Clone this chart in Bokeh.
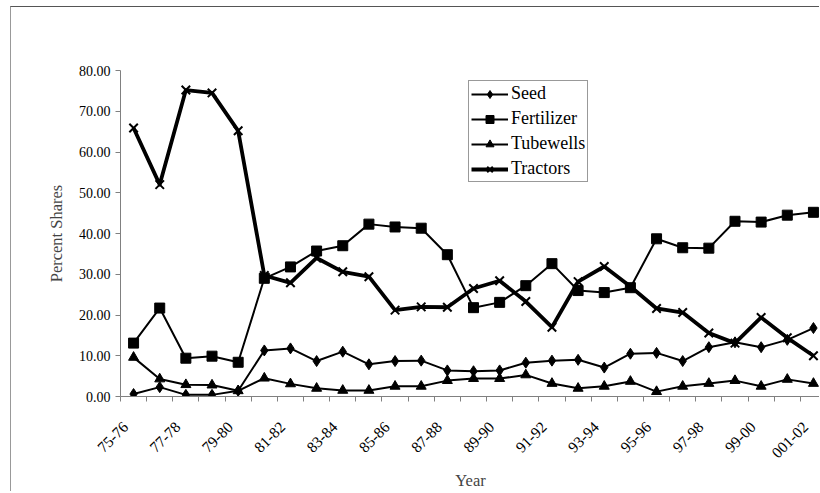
import math
from bokeh.plotting import figure
from bokeh.models import Range1d, FixedTicker, NumeralTickFormatter, Legend, LegendItem
from bokeh.embed import file_html
from bokeh.resources import INLINE

years = ["75-76", "76-77", "77-78", "78-79", "79-80", "80-81", "81-82", "82-83",
         "83-84", "84-85", "85-86", "86-87", "87-88", "88-89", "89-90", "90-91",
         "91-92", "92-93", "93-94", "94-95", "95-96", "96-97", "97-98", "98-99",
         "99-00", "000-01", "001-02"]
seed = [0.6, 2.3, 0.4, 0.4, 1.4, 11.3, 11.8, 8.7, 11.0, 7.9, 8.7, 8.8, 6.4, 6.2,
        6.4, 8.3, 8.8, 9.0, 7.1, 10.5, 10.7, 8.7, 12.1, 13.3, 12.1, 13.9, 16.8]
fertilizer = [13.1, 21.7, 9.4, 9.9, 8.4, 29.0, 31.8, 35.7, 37.0, 42.3, 41.6, 41.3,
              34.8, 21.8, 23.1, 27.2, 32.6, 26.0, 25.5, 26.7, 38.7, 36.5, 36.4,
              43.0, 42.8, 44.5, 45.2]
tubewells = [9.6, 4.3, 2.9, 2.8, 1.4, 4.5, 3.1, 2.0, 1.5, 1.5, 2.5, 2.5, 3.9, 4.4,
             4.4, 5.3, 3.2, 2.0, 2.5, 3.7, 1.2, 2.5, 3.2, 3.9, 2.5, 4.2, 3.2]
tractors = [65.9, 52.0, 75.2, 74.5, 65.2, 29.7, 27.9, 34.0, 30.6, 29.4, 21.2, 22.0,
            21.9, 26.5, 28.4, 23.3, 17.0, 28.2, 31.9, 27.0, 21.6, 20.6, 15.6, 13.1,
            19.4, 14.4, 10.0]
y_ticks = [0, 10, 20, 30, 40, 50, 60, 70, 80]

xs = list(range(len(years)))
FONT = "Liberation Serif"
LABEL_SHIFT = 0.3  # rotated labels sit slightly left of category centre

p = figure(width=809, height=485, output_backend="svg", toolbar_location=None,
           x_range=Range1d(-0.5, 26.27), y_range=Range1d(0, 80),
           min_border_left=109, min_border_right=0, min_border_top=63,
           min_border_bottom=93)
p.outline_line_color = None
p.xgrid.visible = False
p.ygrid.visible = False
p.styles = {"margin-left": "10px", "margin-top": "6px",
            "border-top": "1px solid #555555", "border-left": "1px solid #999999"}

# x axis
label_pos = [i - LABEL_SHIFT for i in xs[::2]]
xa = p.xaxis[0]
xa.ticker = FixedTicker(ticks=label_pos, minor_ticks=[i - 0.5 for i in xs])
xa.major_label_overrides = {pos: years[i] for pos, i in zip(label_pos, xs[::2])}
xa.major_tick_out = 0
xa.major_tick_in = 0
xa.minor_tick_out = 5
xa.minor_tick_in = 0
xa.minor_tick_line_color = "#808080"
xa.axis_line_color = "#808080"
xa.major_label_orientation = math.pi / 4
xa.major_label_standoff = 23
xa.major_label_text_font = FONT
xa.major_label_text_font_size = "15.5px"
xa.major_label_text_color = "black"
xa.axis_label = "Year"
xa.axis_label_text_font = FONT
xa.axis_label_text_font_size = "16.5px"
xa.axis_label_text_font_style = "normal"
xa.axis_label_standoff = 5

# y axis
ya = p.yaxis[0]
ya.ticker = FixedTicker(ticks=y_ticks, minor_ticks=[])
ya.formatter = NumeralTickFormatter(format="0.00")
ya.major_tick_out = 5
ya.major_tick_in = 0
ya.major_tick_line_color = "#808080"
ya.axis_line_color = "#808080"
ya.major_label_standoff = 5
ya.major_label_text_font = FONT
ya.major_label_text_font_size = "14px"
ya.major_label_text_color = "black"
ya.axis_label = "Percent Shares"
ya.axis_label_text_font = FONT
ya.axis_label_text_font_size = "16.5px"
ya.axis_label_text_font_style = "normal"
ya.axis_label_standoff = 10

items = []
l1 = p.line(xs, seed, line_color="black", line_width=2, line_join="round")
m1 = p.scatter(xs, seed, marker="diamond", size=11,
               fill_color="black", line_color="black")
items.append(LegendItem(label="Seed", renderers=[l1, m1]))

l2 = p.line(xs, fertilizer, line_color="black", line_width=2, line_join="round")
m2 = p.scatter(xs, fertilizer, marker="square", size=10,
               fill_color="black", line_color="black")
items.append(LegendItem(label="Fertilizer", renderers=[l2, m2]))

l3 = p.line(xs, tubewells, line_color="black", line_width=2, line_join="round")
m3 = p.scatter(xs, tubewells, marker="triangle", size=10,
               fill_color="black", line_color="black")
items.append(LegendItem(label="Tubewells", renderers=[l3, m3]))

l4 = p.line(xs, tractors, line_color="black", line_width=3.8, line_join="round")
m4 = p.scatter(xs, tractors, marker="x", size=12, line_color="black", line_width=2)
items.append(LegendItem(label="Tractors", renderers=[l4, m4]))

legend = Legend(items=items, location=(348, 214), orientation="vertical",
                label_text_font=FONT, label_text_font_size="18px",
                label_text_color="black", glyph_width=37, glyph_height=20,
                label_height=20, label_standoff=3, spacing=4, padding=2,
                border_line_color="#333333", border_line_width=1,
                background_fill_color="white", background_fill_alpha=1.0)
p.add_layout(legend, "center")

open("out.html", "w").write(file_html(p, INLINE))
